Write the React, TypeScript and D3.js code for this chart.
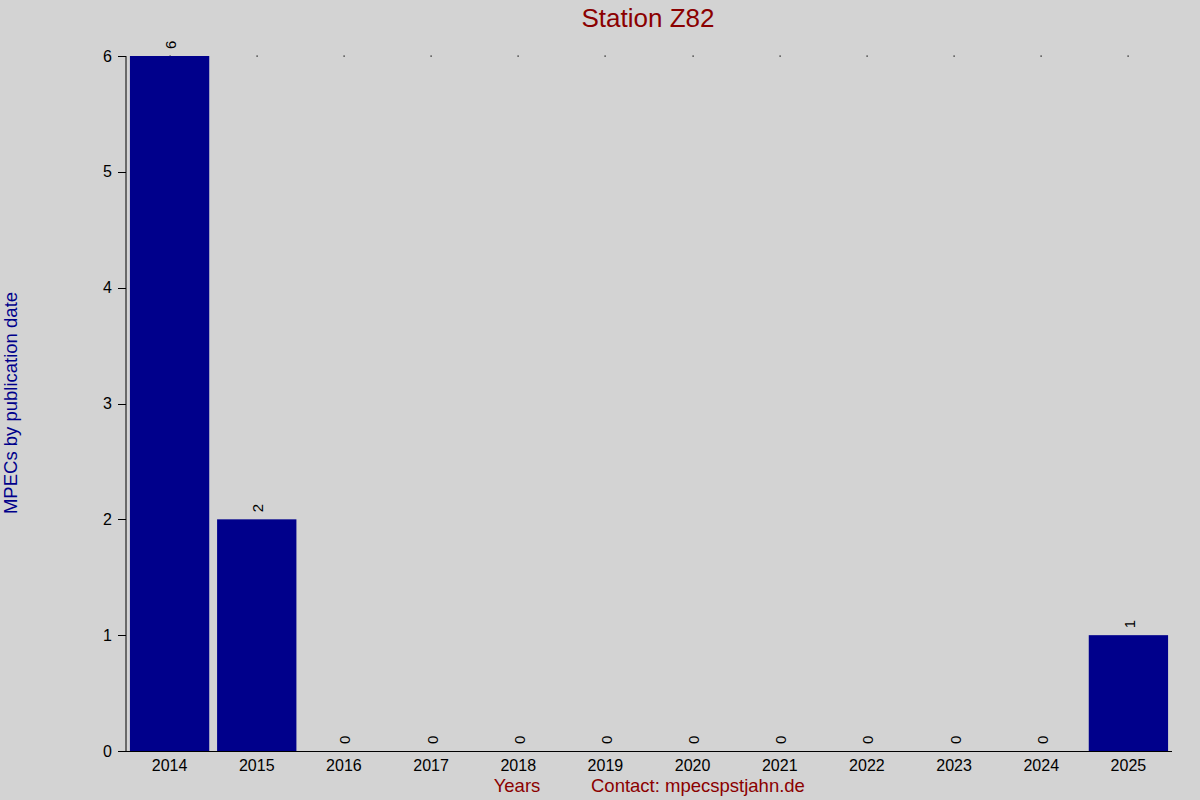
import React from "react";
import * as d3 from "d3";

const years = ["2014","2015","2016","2017","2018","2019","2020","2021","2022","2023","2024","2025"];
const counts = [6, 2, 0, 0, 0, 0, 0, 0, 0, 0, 0, 1];
const yTicks = [0, 1, 2, 3, 4, 5, 6];

const W = 1200, H = 800;
const left = 126, right = 1172, top = 56, bottom = 751;
const font = "'Liberation Sans', Arial, sans-serif";

export default function App() {
  const x = d3.scaleBand<string>().domain(years).range([left, right]).paddingInner(0.09).paddingOuter(0.045);
  const y = d3.scaleLinear().domain([0, 6]).range([bottom, top]);
  return (
    <svg width={W} height={H} style={{ position: "absolute", left: 0, top: 0 }} fontFamily={font}>
      <rect x={0} y={0} width={W} height={H} fill="#d3d3d3" />
      <text x={648} y={27} textAnchor="middle" fontSize={26} fill="#8b0000">Station Z82</text>
      {years.map((yr) => {
        const cx = (x(yr) as number) + x.bandwidth() / 2;
        return <rect key={"d" + yr} x={Math.round(cx) - 0.5} y={y(6) - 0.5} width={1.2} height={1.2} fill="#000" />;
      })}
      {years.map((yr, i) => {
        const v = counts[i];
        const bx = x(yr) as number;
        const cx = bx + x.bandwidth() / 2;
        return (
          <g key={yr}>
            {v > 0 && <rect x={bx} y={y(v)} width={x.bandwidth()} height={y(0) - y(v)} fill="#00008b" />}
            <text transform={`translate(${cx + 6.5},${y(v) - 7}) rotate(-90)`} fontSize={15} fill="#000">{v}</text>
            <text x={cx} y={771} textAnchor="middle" fontSize={16} fill="#000">{yr}</text>
          </g>
        );
      })}
      <line x1={left} x2={left} y1={top} y2={bottom} stroke="#000" strokeWidth={1} />
      <line x1={118} x2={right} y1={bottom + 0.5} y2={bottom + 0.5} stroke="#000" strokeWidth={1} />
      {yTicks.map(t => (
        <g key={t}>
          <line x1={118} x2={left} y1={Math.round(y(t)) + 0.5} y2={Math.round(y(t)) + 0.5} stroke="#000" strokeWidth={1} />
          <text x={112} y={y(t) + 5.5} textAnchor="end" fontSize={16} fill="#000">{t}</text>
        </g>
      ))}
      <text transform={`translate(17,403) rotate(-90)`} textAnchor="middle" fontSize={18.5} fill="#00008b">MPECs by publication date</text>
      <text x={517} y={792} textAnchor="middle" fontSize={18.5} fill="#8b0000">Years</text>
      <text x={591} y={792} fontSize={18.5} fill="#8b0000">Contact: mpecspstjahn.de</text>
    </svg>
  );
}
